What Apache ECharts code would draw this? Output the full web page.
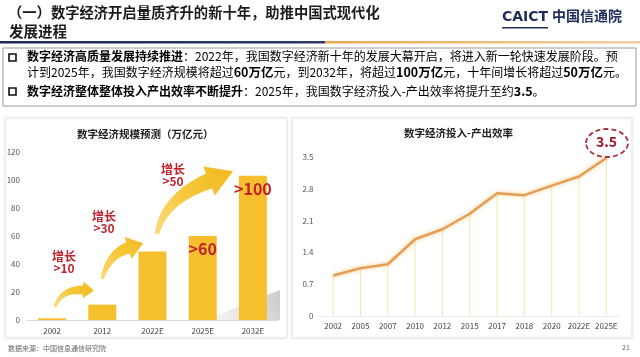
<!DOCTYPE html>
<html><head><meta charset="utf-8">
<script src="https://cdn.jsdelivr.net/npm/echarts@6/dist/echarts.min.js"></script>
<style>html,body{margin:0;padding:0;background:#fff}#c{width:640px;height:357px}</style>
</head><body><div id="c"></div>
<script>
// ---- data ----
const scaleCats = ['2002', '2012', '2022E', '2025E', '2032E'];
const scaleVals = [1.2, 11, 49, 60, 103];
const scaleBarLabels = ['', '', '', '>60', '>100'];
const growthNotes = ['增长\n>10', '增长\n>30', '增长\n>50'];
const effCats = ['2002', '2005', '2007', '2010', '2012', '2015', '2017', '2018', '2020', '2022E', '2025E'];
const effVals = [0.89, 1.05, 1.14, 1.69, 1.91, 2.25, 2.70, 2.66, 2.87, 3.07, 3.48];
const scaleAxis = { min: 0, max: 120, interval: 20 };
const effAxis = { min: 0, max: 3.5, interval: 0.7 };
const effHighlight = '3.5';

const FONT = '"Noto Sans CJK SC", "Noto Sans", sans-serif';
const chart = echarts.init(document.getElementById('c'), null, { renderer: 'canvas' });

// decorative curved arrow (quadratic bezier body + head)
function arrowPts(p0, c, p1, w0, w1, headW, headL) {
  const left = [], right = [];
  const N = 24;
  for (let i = 0; i <= N; i++) {
    const t = i / N;
    const x = (1 - t) * (1 - t) * p0[0] + 2 * (1 - t) * t * c[0] + t * t * p1[0];
    const y = (1 - t) * (1 - t) * p0[1] + 2 * (1 - t) * t * c[1] + t * t * p1[1];
    let dx = 2 * (1 - t) * (c[0] - p0[0]) + 2 * t * (p1[0] - c[0]);
    let dy = 2 * (1 - t) * (c[1] - p0[1]) + 2 * t * (p1[1] - c[1]);
    const L = Math.hypot(dx, dy); dx /= L; dy /= L;
    const w = (w0 + (w1 - w0) * t) / 2;
    left.push([x - dy * w, y + dx * w]);
    right.push([x + dy * w, y - dx * w]);
  }
  let dx = p1[0] - c[0], dy = p1[1] - c[1];
  const L = Math.hypot(dx, dy); dx /= L; dy /= L;
  const hl = [p1[0] - dy * headW / 2, p1[1] + dx * headW / 2];
  const hr = [p1[0] + dy * headW / 2, p1[1] - dx * headW / 2];
  const tip = [p1[0] + dx * headL, p1[1] + dy * headL];
  return left.concat([hl, tip, hr]).concat(right.reverse());
}
function arrowFill() {
  return new echarts.graphic.LinearGradient(0, 1, 1, 0, [
    { offset: 0, color: '#F9DC80' }, { offset: 0.5, color: '#F5C73A' }, { offset: 1, color: '#F2B91E' }]);
}

const growthPos = [[64, 250], [104, 210], [173, 163]];

const graphics = [
  // header
  { type: 'text', left: 8, top: 5, style: { text: '（一）数字经济开启量质齐升的新十年，助推中国式现代化', font: 'bold 14.3px ' + FONT, fill: '#1b1b1b' } },
  { type: 'text', left: 9, top: 24, style: { text: '发展进程', font: 'bold 14.5px ' + FONT, fill: '#1b1b1b' } },
  { type: 'text', left: 502, top: 10, style: { text: 'CAICT', font: 'bold 14px "DejaVu Sans", sans-serif', fill: '#1F2D5A' } },
  { type: 'rect', shape: { x: 502, y: 27, width: 46, height: 1.5 }, style: { fill: '#1F2D5A' } },
  { type: 'text', left: 552, top: 9, style: { text: '中国信通院', font: 'bold 14px ' + FONT, fill: '#1F2D5A' } },
  { type: 'rect', shape: { x: 0, y: 41, width: 325, height: 2.5 }, style: { fill: new echarts.graphic.LinearGradient(0, 0, 1, 0, [{ offset: 0, color: '#1E2A55' }, { offset: 1, color: '#2C3A6A' }]) } },
  { type: 'rect', shape: { x: 325, y: 41, width: 315, height: 2.5 }, style: { fill: new echarts.graphic.LinearGradient(0, 0, 1, 0, [{ offset: 0, color: '#E9A94E' }, { offset: 1, color: '#F3CFA0' }]) } },
  // text box
  { type: 'rect', shape: { x: 3, y: 48, width: 633, height: 58 }, style: { fill: '#fff', stroke: '#9a9a9a', lineWidth: 1 } },
  { type: 'rect', shape: { x: 9, y: 54, width: 7, height: 7 }, style: { fill: 'none', stroke: '#111', lineWidth: 1.6 } },
  { type: 'rect', shape: { x: 9, y: 88, width: 7, height: 7 }, style: { fill: 'none', stroke: '#111', lineWidth: 1.6 } },
  { type: 'text', left: 27, top: 50, style: { text: '{b|数字经济高质量发展持续推进}{n|：2022年，我国数字经济新十年的发展大幕开启，将进入新一轮快速发展阶段。预}', rich: richTxt() } },
  { type: 'text', left: 27, top: 66, style: { text: '{n|计到2025年，我国数字经济规模将超过}{r|60万亿}{n|元，到2032年，将超过}{r|100万亿}{n|元，十年间增长将超过}{r|50万亿}{n|元。}', rich: richTxt() } },
  { type: 'text', left: 27, top: 85, style: { text: '{b|数字经济整体整体投入产出效率不断提升}{n|：2025年，我国数字经济投入-产出效率将提升至约}{r|3.5}{n|。}', rich: richTxt() } },
  // cards
  { type: 'rect', z: -10, shape: { x: 5, y: 118, width: 282, height: 220 }, style: { fill: '#fff', stroke: '#E4E4E4', lineWidth: 1, shadowBlur: 3, shadowColor: 'rgba(0,0,0,0.06)' } },
  { type: 'rect', z: -10, shape: { x: 292, y: 118, width: 340, height: 220 }, style: { fill: '#fff', stroke: '#E4E4E4', lineWidth: 1, shadowBlur: 3, shadowColor: 'rgba(0,0,0,0.06)' } },
  { type: 'text', top: 129, left: 77, style: { text: '数字经济规模预测（万亿元）', font: 'bold 10.5px ' + FONT, fill: '#222' } },
  { type: 'text', top: 128, left: 404, style: { text: '数字经济投入-产出效率', font: 'bold 10.5px ' + FONT, fill: '#222' } },
  // shadow behind bars
  { type: 'polygon', z: 1, shape: { points: [[205, 320], [262, 297], [280, 290], [280, 320]] }, style: { fill: new echarts.graphic.LinearGradient(0, 1, 1, 0, [{ offset: 0, color: 'rgba(200,200,200,0.1)' }, { offset: 1, color: 'rgba(185,185,185,0.75)' }]) } },
  // arrows
  { type: 'polygon', z: 50, shape: { points: arrowPts([55, 307], [61, 289], [83, 290], 2.5, 9, 17, 11) }, style: { fill: arrowFill() } },
  { type: 'polygon', z: 50, shape: { points: arrowPts([102, 279], [109, 254], [128, 248], 3.5, 12, 23, 16) }, style: { fill: arrowFill() } },
  { type: 'polygon', z: 50, shape: { points: arrowPts([157, 234], [164, 199], [209, 181], 4.5, 16, 31, 26) }, style: { fill: arrowFill() } },
  // highlight ellipse
  { type: 'ellipse', z: 60, shape: { cx: 607, cy: 143, rx: 21, ry: 14 }, style: { fill: 'none', stroke: '#A6303E', lineWidth: 1.8, lineDash: [5, 3] } },
  { type: 'text', z: 60, left: 596, top: 135, style: { text: effHighlight, font: 'bold 14px ' + FONT, fill: '#A0182B' } },
  // footer
  { type: 'text', left: 8, top: 345, style: { text: '数据来源：中国信息通信研究院', font: '7px ' + FONT, fill: '#666' } },
  { type: 'text', left: 622, top: 344, style: { text: '21', font: '7px ' + FONT, fill: '#666' } }
];
growthNotes.forEach((t, i) => {
  graphics.push({ type: 'text', z: 60, x: growthPos[i][0], y: growthPos[i][1], style: { text: t, font: 'bold 12px ' + FONT, fill: '#C0232E', align: 'center', lineHeight: 12 } });
});

function richTxt() {
  return {
    b: { fontFamily: FONT, fontSize: 12, fontWeight: 'bold', color: '#1a1a1a' },
    n: { fontFamily: FONT, fontSize: 12, color: '#333' },
    r: { fontFamily: FONT, fontSize: 12.5, fontWeight: 'bold', color: '#C00000' }
  };
}

const option = {
  backgroundColor: '#fff',
  animation: false,
  textStyle: { fontFamily: FONT },
  grid: [
    { left: 27, top: 152, width: 251, height: 168 },
    { left: 319.5, top: 157, width: 300.5, height: 159 }
  ],
  xAxis: [
    { type: 'category', gridIndex: 0, data: scaleCats, axisTick: { show: false },
      axisLine: { lineStyle: { color: '#DADADA' } },
      axisLabel: { color: '#444', fontSize: 8, margin: 7 } },
    { type: 'category', gridIndex: 1, data: effCats, axisTick: { show: false },
      axisLine: { lineStyle: { color: '#EEEEEE' } },
      axisLabel: { color: '#444', fontSize: 8, margin: 6, interval: 0 } }
  ],
  yAxis: [
    { type: 'value', gridIndex: 0, min: scaleAxis.min, max: scaleAxis.max, interval: scaleAxis.interval,
      splitLine: { show: false }, axisLine: { show: false },
      axisLabel: { color: '#555', fontSize: 8, margin: 7 } },
    { type: 'value', gridIndex: 1, min: effAxis.min, max: effAxis.max, interval: effAxis.interval,
      splitLine: { show: false }, axisLine: { show: false },
      axisLabel: { color: '#555', fontSize: 8, margin: 6 } }
  ],
  series: [
    { type: 'bar', xAxisIndex: 0, yAxisIndex: 0, data: scaleVals, barWidth: 28, z: 3,
      itemStyle: { color: '#F5BF2E' },
      label: { show: true, position: 'insideTop', distance: 5,
        formatter: p => scaleBarLabels[p.dataIndex],
        color: '#C0232E', fontSize: 16, fontWeight: 'bold', fontFamily: FONT } },
    { type: 'bar', xAxisIndex: 1, yAxisIndex: 1, data: effVals, barWidth: 1, z: 1,
      itemStyle: { color: '#F6E6AE' } },
    { type: 'line', xAxisIndex: 1, yAxisIndex: 1, data: effVals, symbol: 'none', z: 5,
      lineStyle: { color: '#E59E55', width: 2.5, shadowColor: 'rgba(240,190,110,0.8)', shadowBlur: 4 } }
  ],
  graphic: graphics
};
chart.setOption(option);
</script>
</body></html>
